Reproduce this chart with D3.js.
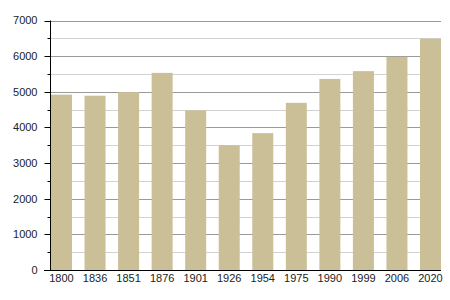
<!DOCTYPE html>
<meta charset="utf-8">
<script src="https://d3js.org/d3.v7.min.js"></script>
<body style="margin:0;background:#fff">
<svg width="450" height="300"></svg>
<script>
var years = ['1800', '1836', '1851', '1876', '1901', '1926', '1954', '1975', '1990', '1999', '2006', '2020'];
var population = [4920, 4890, 4990, 5530, 4480, 3500, 3840, 4690, 5360, 5580, 5980, 6490];
var majorTicks = [0, 1000, 2000, 3000, 4000, 5000, 6000, 7000];
var minorTicks = [500, 1500, 2500, 3500, 4500, 5500, 6500];

var plotLeft = 50, plotRight = 441, plotTop = 20.5, plotBottom = 270;
var svg = d3.select('svg');

var x = d3.scaleBand().domain(years).range([plotLeft + 1, plotRight]).paddingInner(0.374).paddingOuter(0);
var y = d3.scaleLinear().domain([0, 7000]).range([plotBottom, plotTop]);

function py(d) { return Math.round(y(d)) + 0.5; }

// grid lines
svg.append('g').selectAll('line').data(minorTicks).enter().append('line')
    .attr('x1', plotLeft).attr('x2', plotRight)
    .attr('y1', py).attr('y2', py)
    .attr('stroke', '#d2d2d2');
svg.append('g').selectAll('line').data(majorTicks.slice(1)).enter().append('line')
    .attr('x1', plotLeft).attr('x2', plotRight)
    .attr('y1', py).attr('y2', py)
    .attr('stroke', '#9a9a9a');

// bars
svg.append('g').selectAll('rect').data(population).enter().append('rect')
    .attr('x', function (d, i) { return x(years[i]); })
    .attr('width', x.bandwidth())
    .attr('y', function (d) { return y(d); })
    .attr('height', function (d) { return plotBottom - y(d); })
    .attr('fill', '#cbbf98');

// y axis
var yAxis = svg.append('g').attr('transform', 'translate(' + (plotLeft + 0.5) + ',0)');
yAxis.append('line').attr('y1', plotTop).attr('y2', plotBottom).attr('stroke', '#000');
yAxis.selectAll('.major').data(majorTicks).enter().append('line')
    .attr('x1', -6).attr('x2', 0)
    .attr('y1', py).attr('y2', py)
    .attr('stroke', '#000');
yAxis.selectAll('.minor').data(minorTicks).enter().append('line')
    .attr('x1', -3).attr('x2', 0)
    .attr('y1', py).attr('y2', py)
    .attr('stroke', '#000');
yAxis.selectAll('text').data(majorTicks).enter().append('text')
    .attr('x', -13).attr('y', function (d) { return y(d); })
    .attr('dy', '0.35em')
    .attr('text-anchor', 'end')
    .attr('font-family', 'Liberation Sans, Arial, sans-serif')
    .attr('font-size', 11)
    .attr('fill', '#222')
    .text(function (d) { return d; });

// x axis
svg.append('line').attr('x1', plotLeft - 6).attr('x2', plotRight)
    .attr('y1', plotBottom + 0.5).attr('y2', plotBottom + 0.5).attr('stroke', '#000');
svg.append('g').selectAll('text').data(years).enter().append('text')
    .attr('x', function (d) { return x(d) + x.bandwidth() / 2; })
    .attr('y', plotBottom + 12)
    .attr('text-anchor', 'middle')
    .attr('font-family', 'Liberation Sans, Arial, sans-serif')
    .attr('font-size', 11)
    .attr('fill', '#222')
    .text(function (d) { return d; });
</script>
</body>
